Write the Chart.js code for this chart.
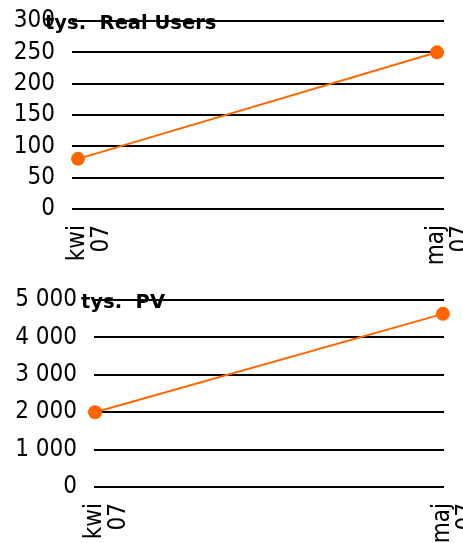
<!DOCTYPE html>
<html>
<head>
<meta charset="utf-8">
<script src="https://cdn.jsdelivr.net/npm/chart.js@4"></script>
<style>
  body { margin: 0; background: #fff; }
  canvas { display: block; }
</style>
</head>
<body>
<canvas id="usersChart" width="463" height="272"></canvas>
<canvas id="pvChart" width="463" height="271"></canvas>
<script>
// data
const months = [['kwi', '07'], ['maj', '07']];
const realUsers = [80, 250];      // tys.
const pageViews = [2000, 4630];   // tys.
const usersTicks = [0, 50, 100, 150, 200, 250, 300];
const pvTicks = [0, 1000, 2000, 3000, 4000, 5000];

const TICK_FONT = '"DejaVu Sans Condensed", "DejaVu Sans", sans-serif';
const TITLE_FONT = '"DejaVu Sans", sans-serif';
const ORANGE = '#ff6600';

// thousands with a space, like "5 000"
function fmt(v) {
  return String(v).replace(/\B(?=(\d{3})+(?!\d))/g, ' ');
}

// title sits on the top grid line, drawn over the tick labels
const titlePlugin = {
  id: 'boxTitle',
  afterDraw(chart, args, opts) {
    const ctx = chart.ctx;
    ctx.save();
    ctx.font = 'bold 19.5px ' + TITLE_FONT;
    ctx.fillStyle = '#000';
    ctx.textBaseline = 'alphabetic';
    ctx.fillText(opts.text, opts.x, chart.chartArea.top + 8);
    ctx.restore();
  }
};

function makeChart(id, values, ticks, cfg) {
  return new Chart(document.getElementById(id), {
    type: 'line',
    data: {
      datasets: [{
        data: values.map((v, i) => ({ x: i, y: v })),
        borderColor: ORANGE,
        borderWidth: 2,
        pointRadius: 7,
        pointHoverRadius: 7,
        pointBackgroundColor: ORANGE,
        pointBorderWidth: 0,
        clip: false
      }]
    },
    options: {
      responsive: false,
      animation: false,
      layout: { padding: { top: cfg.top, right: 19, left: 0, bottom: 0 } },
      plugins: {
        legend: { display: false },
        tooltip: { enabled: false },
        boxTitle: { text: cfg.title, x: cfg.titleX }
      },
      scales: {
        x: {
          type: 'linear',
          min: cfg.xMin,
          max: cfg.xMax,
          afterBuildTicks: s => { s.ticks = months.map((m, i) => ({ value: i })); },
          afterFit: s => { s.height = cfg.xHeight; s.paddingLeft = 0; s.paddingRight = 0; },
          grid: { display: false, drawTicks: false },
          border: { display: false },
          ticks: {
            autoSkip: false,
            minRotation: 90,
            maxRotation: 90,
            padding: 16,
            color: '#000',
            font: { family: TICK_FONT, size: 24, lineHeight: 0.98 },
            callback: v => months[v]
          }
        },
        y: {
          min: ticks[0],
          max: ticks[ticks.length - 1],
          afterBuildTicks: s => { s.ticks = ticks.map(v => ({ value: v })); },
          afterFit: s => { s.width = cfg.yWidth; s.paddingTop = 0; s.paddingBottom = 0; },
          grid: { color: '#000', lineWidth: 2, drawTicks: false },
          border: { display: false },
          ticks: {
            autoSkip: false,
            padding: 17,
            color: '#000',
            font: { family: TICK_FONT, size: 24 },
            callback: v => fmt(v)
          }
        }
      }
    },
    plugins: [titlePlugin]
  });
}

makeChart('usersChart', realUsers, usersTicks, {
  title: 'tys.  Real Users', titleX: 45,
  top: 21, yWidth: 72, xHeight: 63,
  xMin: -0.0167, xMax: 1.0195
});

makeChart('pvChart', pageViews, pvTicks, {
  title: 'tys.  PV', titleX: 81,
  top: 28, yWidth: 94, xHeight: 56,
  xMin: -0.003, xMax: 1.003
});
</script>
</body>
</html>
